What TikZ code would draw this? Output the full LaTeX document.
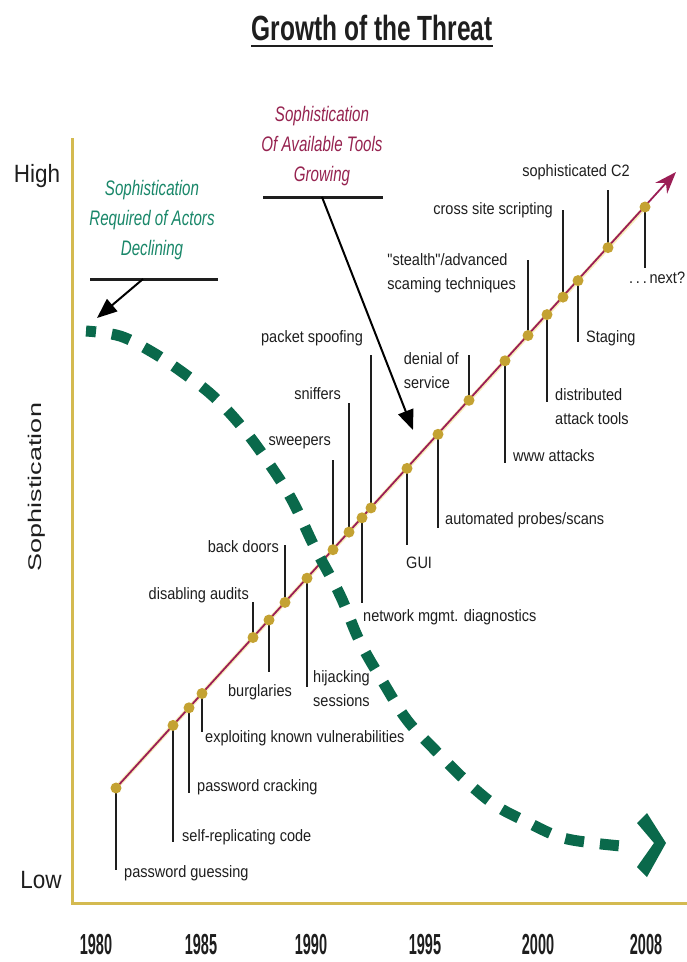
\documentclass[tikz,border=0pt]{standalone}
\usepackage{fontspec}
\setmainfont{Liberation Sans}
\newfontfamily\lblfont[FakeStretch=0.88]{Liberation Sans}
\newfontfamily\ttlfont[FakeStretch=0.70]{Liberation Sans}
\newfontfamily\yrfont[FakeStretch=0.50]{Liberation Sans}
\newfontfamily\itfont[FakeStretch=0.72]{Liberation Sans}
\newfontfamily\hlfont[FakeStretch=0.90]{Liberation Sans}
\usetikzlibrary{arrows.meta,calc}
\pgfdeclarelayer{bg}
\pgfsetlayers{bg,main}
\definecolor{axisgold}{RGB}{212,186,80}
\definecolor{dotgold}{RGB}{196,162,50}
\definecolor{glowc}{RGB}{245,225,140}
\definecolor{trendred}{RGB}{155,30,85}
\definecolor{dashgreen}{RGB}{10,105,75}
\definecolor{textgreen}{RGB}{25,135,105}
\definecolor{textmaroon}{RGB}{150,35,80}
\definecolor{ink}{RGB}{30,30,30}
\tikzset{
  lbl/.style={font={\lblfont\fontsize{16.5}{24}\selectfont}, text=ink, inner sep=0pt, align=left},
  dot/.style={circle, fill=dotgold, inner sep=0pt, minimum size=11pt},
  tick/.style={draw=ink, line width=1.8pt},
  yr/.style={font={\yrfont\bfseries\fontsize{29}{30}\selectfont}, text=ink, inner sep=0pt},
  hl/.style={font={\hlfont\fontsize{25}{28}\selectfont}, text=ink, inner sep=0pt},
  headtext/.style={font={\itfont\itshape\fontsize{21}{30}\selectfont}, inner sep=0pt, align=center},
  bar/.style={draw=ink, line width=3pt},
  pointer/.style={draw=black, line width=2pt, -{Triangle[length=20pt,width=16pt]}},
  axis/.style={draw=axisgold, line width=3pt},
  greendash/.style={draw=dashgreen, line width=11pt, dash pattern=on 19pt off 16pt, dash phase=9pt},
}
\begin{document}
\begin{tikzpicture}[x=1pt,y=-1pt]
\useasboundingbox (0,0) rectangle (687,962);

% title
\node[font={\ttlfont\bfseries\fontsize{35}{40}\selectfont}, text=ink, inner sep=0pt, anchor=base] (title) at (372,40) {Growth of the Threat};
\draw[draw=ink, line width=2.5pt] ([yshift=-6pt]title.base west) -- ([yshift=-6pt]title.base east);

% axes
\coordinate (ytop) at (72,138);
\coordinate (origin) at (72,903);
\coordinate (xend) at (687,903);
\draw[axis] (ytop) -- (origin) -- (xend);
\node[hl] (high) at (37,176) {High};
\node[hl] (low) at (41,880) {Low};
\node[font={\fontsize{27}{30}\selectfont}, text=ink, inner sep=0pt] (ylab) at (37,487) {\rotatebox{90}{\scalebox{1}[0.68]{Sophistication}}};

\node[yr] (y1980) at (96,945) {1980};
\node[yr] (y1985) at (201,945) {1985};
\node[yr] (y1990) at (311,945) {1990};
\node[yr] (y1995) at (425,945) {1995};
\node[yr] (y2000) at (538,945) {2000};
\node[yr] (y2008) at (646,945) {2008};

% headings
\node[headtext, text=textmaroon] (tools) at (322,146) {Sophistication\\Of Available Tools\\Growing};
\node[headtext, text=textgreen] (actors) at (152,220) {Sophistication\\Required of Actors\\Declining};

\coordinate (tbarL) at (263,197);
\coordinate (tbarR) at (383,197);
\coordinate (tfrom) at (322,197);
\coordinate (tto) at (413,430);
\draw[bar] (tbarL) -- (tbarR);
\draw[pointer] (tfrom) -- (tto);

\coordinate (abarL) at (90,279);
\coordinate (abarR) at (218,279);
\coordinate (afrom) at (143,279);
\coordinate (ato) at (97,318);
\draw[bar] (abarL) -- (abarR);
\draw[pointer] (afrom) -- (ato);

% dots on the trend line
\node[dot] (d1) at (116,788) {};
\node[dot] (d2) at (173,725.4) {};
\node[dot] (d3) at (189,707.8) {};
\node[dot] (d4) at (202,693.5) {};
\node[dot] (d5) at (253,637.5) {};
\node[dot] (d6) at (269,620) {};
\node[dot] (d7) at (285,602.4) {};
\node[dot] (d8) at (307,578.2) {};
\node[dot] (d9) at (333,549.7) {};
\node[dot] (d10) at (349,532.1) {};
\node[dot] (d11) at (371,507.9) {};
\node[dot] (d12) at (362,517.8) {};
\node[dot] (d13) at (407,468.4) {};
\node[dot] (d14) at (438,434.3) {};
\node[dot] (d15) at (469,400.3) {};
\node[dot] (d16) at (505,360.8) {};
\node[dot] (d17) at (528,335.5) {};
\node[dot] (d18) at (547,314.6) {};
\node[dot] (d19) at (563,297.1) {};
\node[dot] (d20) at (578,280.6) {};
\node[dot] (d21) at (608,247.6) {};
\node[dot] (d22) at (645,207) {};
\coordinate (tip) at (676,172);

% tick ends
\coordinate (e1) at (116,870);
\coordinate (e2) at (173,842);
\coordinate (e3) at (189,793);
\coordinate (e4) at (202,732);
\coordinate (e5) at (253,602);
\coordinate (e6) at (269,672);
\coordinate (e7) at (285,545);
\coordinate (e8) at (307,687);
\coordinate (e9) at (333,460);
\coordinate (e10) at (349,403);
\coordinate (e11) at (371,355);
\coordinate (e12) at (362,603);
\coordinate (e13) at (407,545);
\coordinate (e14) at (438,528);
\coordinate (e15) at (469,355);
\coordinate (e16) at (505,463);
\coordinate (e17) at (528,260);
\coordinate (e18) at (547,402);
\coordinate (e19) at (563,210);
\coordinate (e20) at (578,342);
\coordinate (e21) at (608,190);
\coordinate (e22) at (645,268);

% labels
\node[lbl, anchor=west] (l1) at (124,873) {password guessing};
\node[lbl, anchor=west] (l2) at (182,837) {self-replicating code};
\node[lbl, anchor=west] (l3) at (197,787) {password cracking};
\node[lbl, anchor=west] (l4) at (205,738) {exploiting known vulnerabilities};
\node[lbl, anchor=east] (l5) at (249,595) {disabling audits};
\node[lbl] (l6) at (260,692) {burglaries};
\node[lbl, anchor=east] (l7) at (279,547) {back doors};
\node[lbl, anchor=west] (l8) at (313,689) {hijacking\\sessions};
\node[lbl, anchor=east] (l9) at (331,443) {sweepers};
\node[lbl, anchor=east] (l10) at (341,394) {sniffers};
\node[lbl] (l11) at (312,338) {packet spoofing};
\node[lbl, anchor=west] (l12) at (363,617) {network mgmt. diagnostics};
\node[lbl, anchor=west] (l13) at (406,563) {GUI};
\node[lbl, anchor=west] (l14) at (445,520) {automated probes/scans};
\node[lbl, anchor=east] (l15) at (459,371) {denial of\\service};
\node[lbl, anchor=west] (l16) at (513,456) {www attacks};
\node[lbl, anchor=east] (l17) at (516,273) {"stealth"/advanced\\scaming techniques};
\node[lbl, anchor=west] (l18) at (555,407) {distributed\\attack tools};
\node[lbl, anchor=east] (l19) at (553,210) {cross site scripting};
\node[lbl, anchor=west] (l20) at (586,338) {Staging};
\node[lbl] (l21) at (576,172) {sophisticated C2};
\node[lbl, anchor=west] (l22) at (629,278) {.\thinspace.\thinspace.\thinspace next?};

\begin{pgfonlayer}{bg}
  \fill[white] (0,0) rectangle (687,962);
  \draw[draw=glowc, line width=4pt, opacity=0.6] (d1.center) -- (d22.center);
  \draw[draw=trendred, line width=1.8pt, -{Stealth[length=22pt,width=16pt]}] (d1.center) -- (tip);
  \foreach \i in {1,...,22} { \draw[tick] (d\i.center) -- (e\i); }
\end{pgfonlayer}

% declining curve
\draw[greendash] plot[smooth, tension=0.6] coordinates {(86,331) (120,336) (152,352) (182,372) (213,396) (242,427) (268,462) (292,500) (315,548) (340,595) (360,642) (383,682) (407,720) (435,750) (465,780) (495,805) (527,822) (560,837) (593,843) (632,847)};
\fill[dashgreen] (637,823) -- (647,813) -- (666,843) -- (647,877) -- (637,867) -- (654,843) -- cycle;
\end{tikzpicture}
\end{document}
